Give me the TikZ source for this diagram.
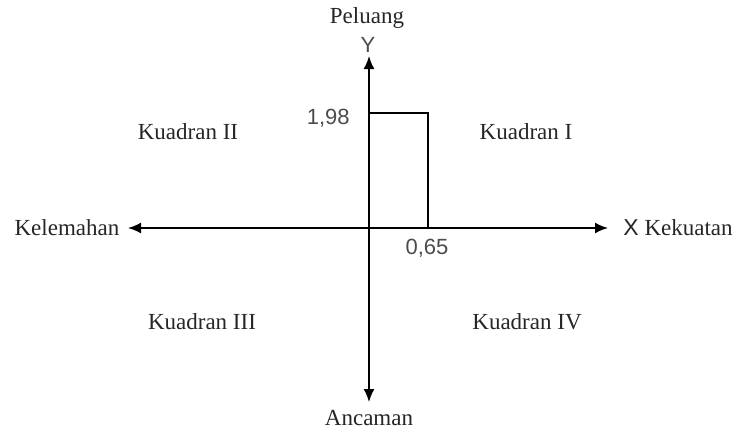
\documentclass[tikz,border=0pt]{standalone}
\usepackage{fontspec}
\setmainfont{Liberation Serif}
\newfontfamily\numfont{Liberation Sans}
\usetikzlibrary{arrows.meta}
\tikzset{
  axis/.style={line width=0.9pt, {Latex[length=6.5pt,width=5.5pt]}-{Latex[length=6.5pt,width=5.5pt]}},
  label/.style={font=\fontsize{11.5}{13}\selectfont, text=black!85, inner sep=1pt},
  value/.style={font=\numfont\fontsize{11}{13}\selectfont, text=black!70, inner sep=1pt}
}
\begin{document}
\begin{tikzpicture}[x=0.5pt, y=-0.5pt]
\useasboundingbox (0,0) rectangle (738,430);

%Axis ends
\coordinate (O) at (369,228);
\coordinate (top) at (369,56);
\coordinate (bottom) at (369,402);
\coordinate (left) at (128,228);
\coordinate (right) at (608,228);

%Axis labels
\node [label] (peluang) at (367,18) {Peluang};
\node [value] (ylab) at (368,45) {Y};
\node [label] (ancaman) at (369,418) {Ancaman};
\node [label] (kelemahan) at (67,228) {Kelemahan};
\node [label, anchor=west] (kekuatan) at (621,228) {{\numfont X} Kekuatan};

%Axes
\draw [axis] (left) -- (right);
\draw [axis] (top) -- (bottom);

%Score point
\coordinate (y198) at (369,113);
\coordinate (x065) at (428,228);
\draw [line width=0.6pt] (y198) -| (x065);
\node [value, anchor=east] (v198) at (352,118) {1,98};
\node [value] (v065) at (427,248) {0,65};

%Quadrant labels
\node [label] (q1) at (526,132) {Kuadran I};
\node [label] (q2) at (188,132) {Kuadran II};
\node [label] (q3) at (202,322) {Kuadran III};
\node [label] (q4) at (527,322) {Kuadran IV};

\end{tikzpicture}
\end{document}
